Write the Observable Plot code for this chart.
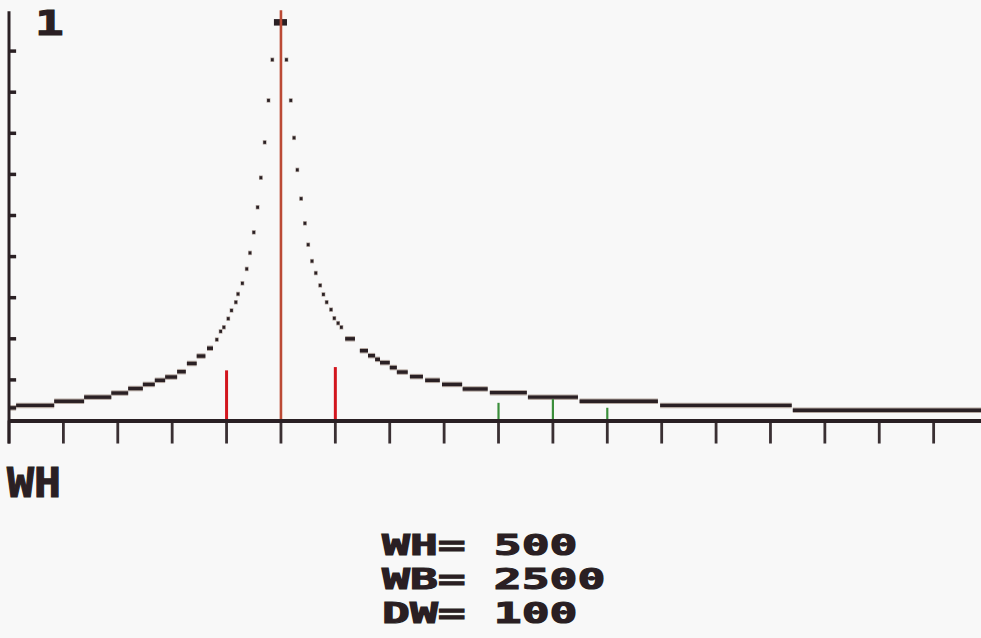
<!DOCTYPE html>
<html><head><meta charset="utf-8">
<script src="https://cdn.jsdelivr.net/npm/d3@7"></script>
<script src="https://cdn.jsdelivr.net/npm/@observablehq/plot@0.6"></script>
<style>
html,body{margin:0;padding:0;background:#f8f8f8;}
#wrap{position:relative;width:981px;height:638px;overflow:hidden;background:#f8f8f8;}
#wrap svg{position:absolute;left:0;top:0;}
.lbl{position:absolute;font-family:"DejaVu Sans Mono",monospace;font-weight:bold;color:#2a1f23;white-space:pre;transform-origin:0 0;line-height:1;-webkit-text-stroke:1.1px #2a1f23;}
</style></head><body>
<div id="wrap"></div>
<script>
// ---- data (omega on x, relative amplitude on y) ----
const xTicks = [0,100,200,300,400,500,600,700,800,900,1000,1100,1200,1300,1400,1500,1600,1700];
const yTicks = [0.1,0.2,0.3,0.4,0.5,0.6,0.7,0.8,0.9];
const resonanceW = 500;
const peakA = 0.97;
// single plotted pixels near the peak
const dotW = [383,390,396,404,410,418,422,430,438,444,451,458,464,471,478,485,
              511,519,525,531,538,545,551,558,565,573,579,585,593,599,606,612];
const dotA = [0.198,0.218,0.228,0.249,0.269,0.289,0.309,0.335,0.370,0.409,0.459,0.520,0.592,0.678,0.780,0.879,
              0.879,0.780,0.689,0.611,0.541,0.481,0.429,0.389,0.360,0.330,0.308,0.289,0.271,0.250,0.238,0.228];
// horizontal runs of plotted pixels in the tails
const runW1 = [0,14,84,139,189,220,247,269,288,310,328,346,365,
               619,646,661,674,683,701,714,738,766,797,835,885,955,1050,1198,1442];
const runW2 = [14,84,139,189,220,247,269,288,310,326,346,362,376,
               637,661,674,683,701,714,734,762,793,834,881,953,1047,1194,1440,1788];
const runA  = [0.032,0.038,0.048,0.058,0.068,0.079,0.089,0.099,0.107,0.120,0.140,0.158,0.177,
               0.200,0.171,0.159,0.150,0.142,0.130,0.119,0.108,0.099,0.089,0.078,0.069,0.058,0.048,0.038,0.026];
const redW = [400,600];
const redA = [0.122,0.130];
const greenW = [900,1000,1100];
const greenA = [0.043,0.052,0.031];
const yMaxLabel = "1";
const xLabel = "WH";
const paramNames = ["WH","WB","DW"];
const paramValues = [500,2500,100];

// ---- tables ----
const dots = dotW.map((w,i)=>({w, a: dotA[i]}));
const runs = runW1.map((w1,i)=>({w1, w2: runW2[i], a: runA[i]}));
const reds = redW.map((w,i)=>({w, a: redA[i]}));
const greens = greenW.map((w,i)=>({w, a: greenA[i]}));

const dark = "#2a2024";
const halo = "#b3a7a0";

const chart = Plot.plot({
  width: 981, height: 450,
  marginLeft: 8.5, marginRight: 0, marginTop: 9.5, marginBottom: 29.5,
  x: {domain: [0, 1788], axis: null},
  y: {domain: [0, 1], axis: null},
  style: {background: "transparent", overflow: "visible"},
  marks: [
    // x ticks below the axis
    Plot.ruleX(xTicks, {y1: -0.056, y2: 0, stroke: "#3a3033", strokeWidth: 2.8}),
    // y ticks
    Plot.ruleY(yTicks, {x1: 0, x2: 14, stroke: dark, strokeWidth: 3.5}),
    // curve tails (halo + core)
    Plot.ruleY(runs, {x1: "w1", x2: "w2", y: "a", stroke: halo, strokeWidth: 5.5}),
    Plot.ruleY(runs, {x1: "w1", x2: "w2", y: "a", stroke: dark, strokeWidth: 3.4}),
    // single pixels of the curve
    Plot.ruleY(dots, {x1: d => d.w - 3.5, x2: d => d.w + 3.5, y: "a", stroke: halo, strokeWidth: 4.5}),
    Plot.ruleY(dots, {x1: d => d.w - 2.5, x2: d => d.w + 2.5, y: "a", stroke: dark, strokeWidth: 3}),
    // peak marker
    Plot.ruleY([peakA], {x1: resonanceW - 12, x2: resonanceW + 12, stroke: dark, strokeWidth: 6.5}),
    // resonance line
    Plot.ruleX([resonanceW], {y1: 0, y2: 0.998, stroke: "#bb4a35", strokeWidth: 2.6}),
    // red markers
    Plot.ruleX(reds, {x: "w", y1: 0, y2: "a", stroke: "#d2151d", strokeWidth: 3}),
    // green markers
    Plot.ruleX(greens, {x: "w", y1: 0, y2: "a", stroke: "#3b8e3b", strokeWidth: 2.2}),
    // axes lines
    Plot.ruleY([0], {x1: 0, x2: 1788, stroke: dark, strokeWidth: 4}),
    Plot.ruleX([0], {y1: -0.056, y2: 0.996, stroke: dark, strokeWidth: 3})
  ]
});

const wrap = document.getElementById("wrap");
wrap.appendChild(chart);

function addLabel(text, left, top, size, sx) {
  const d = document.createElement("div");
  d.className = "lbl";
  d.textContent = text;
  d.style.left = left + "px";
  d.style.top = top + "px";
  d.style.fontSize = size + "px";
  d.style.transform = `scaleX(${sx})`;
  wrap.appendChild(d);
}
addLabel(yMaxLabel, 35, 7, 33, 1.45);
addLabel(xLabel, 7, 463, 40, 1.12);
const baselines = [555, 589, 623];
paramNames.forEach((n, i) => {
  const s = n + "=" + " " + String(paramValues[i]);
  addLabel(s, 382, baselines[i] - 24.5, 29, 1.6);
});
</script>
</body></html>
